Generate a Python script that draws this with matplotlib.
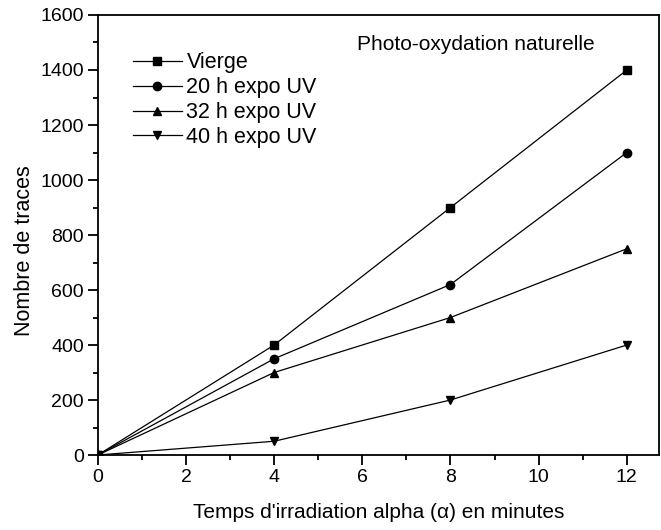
import matplotlib.pyplot as plt
from matplotlib.ticker import MultipleLocator

plt.rcParams['font.family'] = ['Liberation Sans', 'DejaVu Sans']

# data
time = [0, 4, 8, 12]
vierge = [0, 400, 900, 1400]
expo20 = [0, 350, 620, 1100]
expo32 = [0, 300, 500, 750]
expo40 = [0, 50, 200, 400]

labels = ['Vierge', '20 h expo UV', '32 h expo UV', '40 h expo UV']
markers = ['s', 'o', '^', 'v']

fig = plt.figure(figsize=(6.61, 5.30), dpi=100)
ax = fig.add_axes([0.148, 0.1415, 0.849, 0.8302])

for y, lab, m in zip([vierge, expo20, expo32, expo40], labels, markers):
    ax.plot(time, y, color='black', linewidth=0.9, marker=m, markersize=6,
            label=lab)

ax.set_xlim(0, 12.73)
ax.set_ylim(0, 1600)
ax.xaxis.set_major_locator(MultipleLocator(2))
ax.xaxis.set_minor_locator(MultipleLocator(1))
ax.yaxis.set_major_locator(MultipleLocator(200))
ax.yaxis.set_minor_locator(MultipleLocator(100))
ax.tick_params(which='major', direction='out', length=7, width=1.3,
               labelsize=14, pad=3)
ax.tick_params(which='minor', direction='out', length=3.5, width=1.3)
for s in ax.spines.values():
    s.set_linewidth(1.3)

ax.set_xlabel("Temps d'irradiation alpha (α) en minutes", fontsize=15, labelpad=12)
ax.set_ylabel('Nombre de traces', fontsize=15.5, labelpad=4)
ax.yaxis.label.set_y(0.465)

ax.text(0.462, 0.932, 'Photo-oxydation naturelle', transform=ax.transAxes,
        fontsize=15, va='center')

ax.legend(loc='upper left', bbox_to_anchor=(0.062, 0.915), frameon=False,
          fontsize=15.5, handlelength=2.3, handletextpad=0.2, labelspacing=0.18,
          borderaxespad=0, borderpad=0)

fig.savefig('out.png', dpi=100)
